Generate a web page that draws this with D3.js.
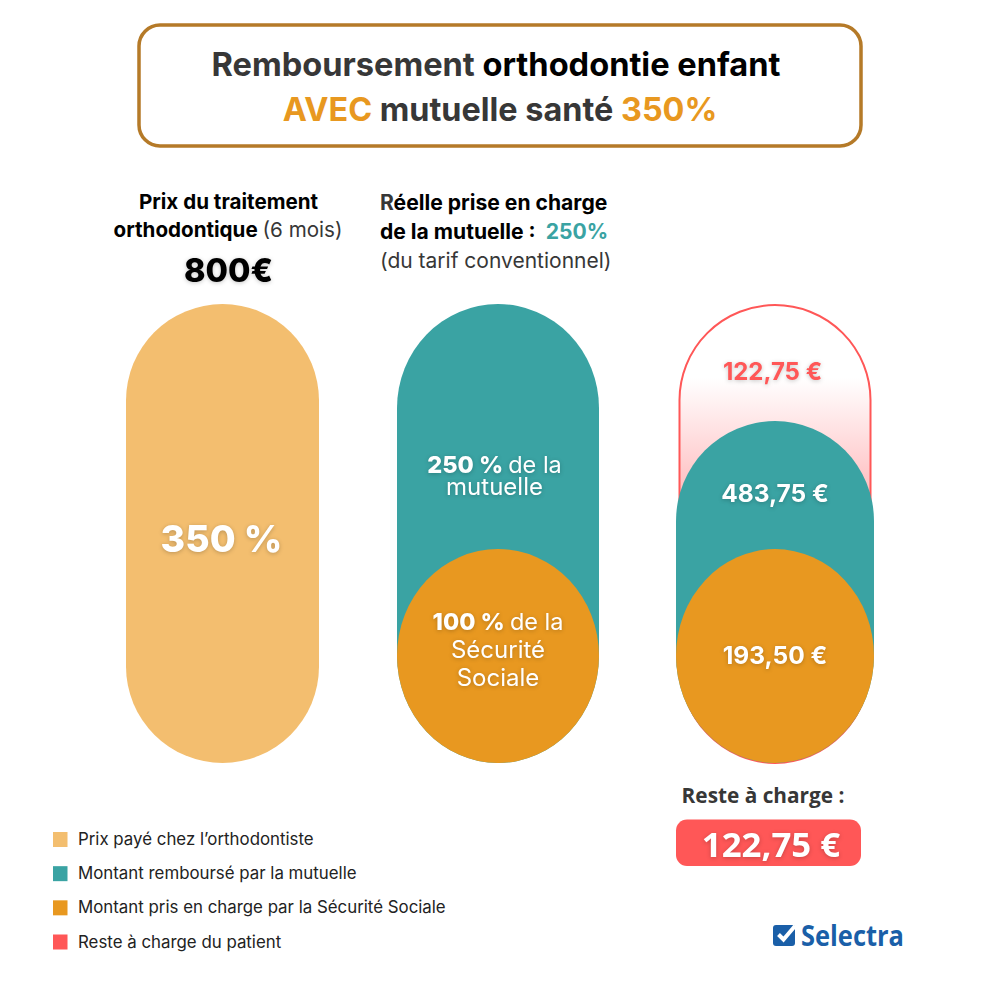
<!DOCTYPE html>
<html>
<head>
<meta charset="utf-8">
<script src="https://cdn.jsdelivr.net/npm/d3@7"></script>
<style>
html, body { margin: 0; padding: 0; background: #fff; }
svg { display: block; }
text { font-family: Inter, sans-serif; }
.soft { filter: drop-shadow(0 1px 2px rgba(0,0,0,.22)); }
.opensans { font-family: "Open Sans", sans-serif; }
</style>
</head>
<body>
<div id="chart"></div>
<script>
const w = 1000, h = 1000

// data
const columns = ["prix", "prise", "reste"]
const prixPct = [350]
const prisePct = [250, 100]            // mutuelle, securite sociale
const resteEuros = [122.75, 483.75, 193.50]
const totalEuros = 800
const legendLabels = ["Prix payé chez l’orthodontiste", "Montant remboursé par la mutuelle",
    "Montant pris en charge par la Sécurité Sociale", "Reste à charge du patient"]

const sand = "#F3BE6F", teal = "#3AA3A3", orange = "#E89820", red = "#FF5757", dark = "#373737"
const legendColors = [sand, teal, orange, red]

//scales - the pills are not proportional so they are piecewise
const xscale = d3.scaleOrdinal().domain(columns).range([222.5, 498, 775])
const pctscale = d3.scaleLinear()
    .domain([0, prisePct[1], prisePct[1] + prisePct[0]])
    .range([763, 549, 304])
const euroscale = d3.scaleLinear()
    .domain([0, resteEuros[2], resteEuros[2] + resteEuros[1], totalEuros])
    .range([763, 549, 421, 304])
const legendscale = d3.scalePoint().domain(legendLabels).range([839.5, 942])

const svg = d3.select("#chart").append("svg")
    .attr("width", w)
    .attr("height", h)

const defs = svg.append("defs")
const grad = defs.append("linearGradient")
    .attr("id", "resteFade")
    .attr("gradientUnits", "userSpaceOnUse")
    .attr("x1", 0).attr("x2", 0).attr("y1", 378).attr("y2", 530)
grad.append("stop").attr("offset", 0).attr("stop-color", "#fff")
grad.append("stop").attr("offset", 1).attr("stop-color", "#FFA9AC")

// pill with elliptical ends
function pill(cx, halfw, top, bottom, ryTop, ryBottom) {
    return "M" + (cx - halfw) + "," + (bottom - ryBottom) +
        "V" + (top + ryTop) +
        "A" + halfw + "," + ryTop + " 0 0 1 " + (cx + halfw) + "," + (top + ryTop) +
        "V" + (bottom - ryBottom) +
        "A" + halfw + "," + ryBottom + " 0 0 1 " + (cx - halfw) + "," + (bottom - ryBottom) + "Z"
}

// rich text helper : parts are [text, weight, colour]
function richText(x, y, size, anchor, parts, cls) {
    const t = svg.append("text")
        .attr("x", x)
        .attr("y", y)
        .attr("font-size", size)
        .attr("text-anchor", anchor)
        .attr("class", cls || null)
    parts.forEach(p => {
        t.append("tspan").attr("font-weight", p[1]).attr("fill", p[2]).text(p[0])
    })
    return t
}

// Title box
svg.append("rect")
    .attr("x", 139).attr("y", 25)
    .attr("width", 722).attr("height", 121)
    .attr("rx", 21)
    .attr("fill", "#fff")
    .attr("stroke", "#B57A28")
    .attr("stroke-width", 3.5)

richText(496, 76, 32.6, "middle", [["Remboursement ", 700, dark], ["orthodontie enfant", 700, "#000"]])
richText(500, 121, 32.4, "middle", [["AVEC ", 700, orange], ["mutuelle santé ", 700, dark], ["350%", 700, orange]])

// Column headers
richText(228.5, 209, 20.6, "middle", [["Prix du traitement", 700, "#000"]])
richText(228, 237, 20.6, "middle", [["orthodontique ", 700, "#000"], ["(6 mois)", 400, dark]])
richText(228.5, 282, 32.5, "middle", [[totalEuros + "€", 800, "#000"]], "soft")

richText(380, 210, 21.1, "start", [["R", 700, dark], ["éelle prise en charge", 700, "#000"]])
richText(380, 239, 21.1, "start", [["de la mutuelle :  ", 700, "#000"], [prisePct[0] + "%", 700, teal]])
    .attr("xml:space", "preserve")
richText(380, 268, 21, "start", [["(du tarif conventionnel)", 400, dark]])

// Column 1
svg.append("path")
    .attr("d", pill(xscale("prix"), 96.5, pctscale(prixPct[0]), pctscale(0), 96.5, 96.5))
    .attr("fill", sand)
richText(xscale("prix") - 1, 552, 37.5, "middle", [[prixPct[0] + " %", 800, "#fff"]], "soft")

// Column 2
svg.append("path")
    .attr("d", pill(xscale("prise"), 101, pctscale(prisePct[0] + prisePct[1]), pctscale(0), 104, 107))
    .attr("fill", teal)
svg.append("path")
    .attr("d", pill(xscale("prise"), 101, pctscale(prisePct[1]), pctscale(0), 107, 107))
    .attr("fill", orange)

richText(xscale("prise") - 3.5, 473, 23.5, "middle", [[prisePct[0] + " % ", 800, "#fff"], ["de la", 400, "#fff"]], "soft")
richText(xscale("prise") - 3.5, 495, 24, "middle", [["mutuelle", 400, "#fff"]], "soft")
richText(xscale("prise"), 630, 23.5, "middle", [[prisePct[1] + " % ", 800, "#fff"], ["de la", 400, "#fff"]], "soft")
richText(xscale("prise"), 658, 24, "middle", [["Sécurité", 400, "#fff"]], "soft")
richText(xscale("prise"), 686, 24, "middle", [["Sociale", 400, "#fff"]], "soft")

// Column 3
const fr = d3.formatLocale({ decimal: ",", thousands: " ", grouping: [3], currency: ["", " €"] }).format("$.2f")

svg.append("path")
    .attr("d", pill(xscale("reste"), 95.5, euroscale(totalEuros) + 1, euroscale(0), 95, 100))
    .attr("fill", "url(#resteFade)")
    .attr("stroke", red)
    .attr("stroke-width", 2)
svg.append("path")
    .attr("d", pill(xscale("reste"), 99, euroscale(resteEuros[2] + resteEuros[1]), euroscale(0), 100, 107))
    .attr("fill", teal)
svg.append("path")
    .attr("d", pill(xscale("reste"), 99, euroscale(resteEuros[2]), euroscale(0), 107, 107))
    .attr("fill", orange)

richText(xscale("reste") - 2.5, 380, 24, "middle", [[fr(resteEuros[0]), 700, red]], "soft")
richText(xscale("reste"), 502, 24.5, "middle", [[fr(resteEuros[1]), 700, "#fff"]], "soft")
richText(xscale("reste"), 664, 24.5, "middle", [[fr(resteEuros[2]), 700, "#fff"]], "soft")

// Reste a charge
richText(763, 803, 20.8, "middle", [["Reste à charge :", 700, dark]]).attr("class", "opensans")
svg.append("rect")
    .attr("x", 676).attr("y", 819.5)
    .attr("width", 185).attr("height", 46.5)
    .attr("rx", 11)
    .attr("fill", red)
richText(771, 857, 34.8, "middle", [[fr(resteEuros[0]), 700, "#fff"]], "soft opensans")

// Legend
svg.selectAll("rect.legendBox")
    .data(legendLabels)
    .enter()
    .append("rect")
    .attr("class", "legendBox")
    .attr("x", 53)
    .attr("y", d => legendscale(d) - 7.5)
    .attr("width", 14.5)
    .attr("height", 15)
    .attr("fill", (d, i) => legendColors[i])

svg.selectAll("text.legendLabel")
    .data(legendLabels)
    .enter()
    .append("text")
    .attr("class", "legendLabel")
    .attr("x", 78)
    .attr("y", d => legendscale(d) + 5.5)
    .attr("font-size", 16.85)
    .attr("fill", "#222")
    .text(d => d)

// Selectra logo
const logo = svg.append("g").attr("transform", "translate(773,924)")
logo.append("path")
    .attr("d", "M3,1 H19 Q22,1 22,4 V19 Q22,22 19,22 H3 Q0,22 0,19 V4 Q0,1 3,1Z")
    .attr("fill", "#1A5FA8")
logo.append("path")
    .attr("d", "M5.5,10.5 L10.5,15.5 L22,2")
    .attr("fill", "none")
    .attr("stroke", "#fff")
    .attr("stroke-width", 4)
logo.append("text")
    .attr("class", "opensans")
    .attr("x", 28)
    .attr("y", 22)
    .attr("font-size", 28)
    .attr("font-weight", 700)
    .attr("textLength", 103)
    .attr("lengthAdjust", "spacingAndGlyphs")
    .attr("fill", "#1A5FA8")
    .text("Selectra")
</script>
</body>
</html>
